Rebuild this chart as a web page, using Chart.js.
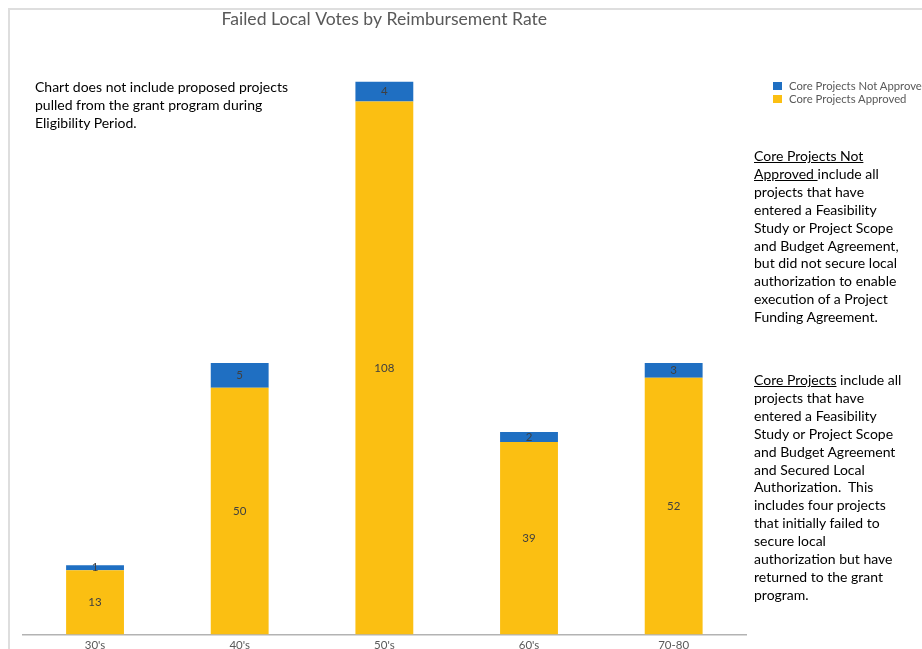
<!DOCTYPE html>
<html>
<head>
<meta charset="utf-8">
<script src="https://cdn.jsdelivr.net/npm/chart.js@4.4.1/dist/chart.umd.min.js"></script>
<style>
  html, body { margin: 0; padding: 0; background: #fff; }
  body { width: 922px; height: 649px; overflow: hidden; position: relative; font-family: Lato, "Open Sans", sans-serif; }
  #frame { position: absolute; left: 8px; top: 8px; right: -4px; bottom: -4px; border-top: 2px solid #dedede; border-left: 2px solid #dedede; pointer-events: none; }
  #wrap { position: absolute; left: 0; top: 0; width: 922px; height: 660px; }
  .note { position: absolute; color: #000; font-size: 14px; line-height: 17.9px; white-space: pre; }
  .u { text-decoration: underline; }
  #legend { position: absolute; left: 773px; top: 79px; font-size: 11.3px; color: #595959; white-space: nowrap; }
  #legend .item { position: relative; height: 13px; line-height: 13px; padding-left: 16px; }
  #legend .sw { position: absolute; left: 0; top: 2.5px; width: 9px; height: 8px; }
</style>
</head>
<body>
<div id="frame"></div>
<div id="wrap"><canvas id="c" width="922" height="660"></canvas></div>
<div class="note" style="left:35px; top:78px;">Chart does not include proposed projects
pulled from the grant program during
Eligibility Period.</div>
<div id="legend"></div>
<div class="note" style="left:754px; top:147px;"><span class="u">Core Projects Not</span>
<span class="u">Approved </span>include all
projects that have
entered a Feasibility
Study or Project Scope
and Budget Agreement,
but did not secure local
authorization to enable
execution of a Project
Funding Agreement.</div>
<div class="note" style="left:754px; top:371px;"><span class="u">Core Projects</span> include all
projects that have
entered a Feasibility
Study or Project Scope
and Budget Agreement
and Secured Local
Authorization.  This
includes four projects
that initially failed to
secure local
authorization but have
returned to the grant
program.</div>
<script>
const categories = ["30's", "40's", "50's", "60's", "70-80"];
const approved = [13, 50, 108, 39, 52];
const notApproved = [1, 5, 4, 2, 3];
const seriesNames = ["Core Projects Approved", "Core Projects Not Approved"];
const seriesColors = ["#fbbf12", "#1f6fc2"];
const titleText = "Failed Local Votes by Reimbursement Rate";

const segLabels = {
  id: 'segLabels',
  afterDatasetsDraw(chart) {
    const ctx = chart.ctx;
    ctx.save();
    ctx.font = '11.5px Lato, "Open Sans", sans-serif';
    ctx.fillStyle = '#404040';
    ctx.textAlign = 'center';
    ctx.textBaseline = 'middle';
    chart.data.datasets.forEach((ds, di) => {
      const meta = chart.getDatasetMeta(di);
      meta.data.forEach((el, i) => {
        const p = el.getProps(['x', 'y', 'base'], true);
        ctx.fillText(String(ds.data[i]), p.x, (p.y + p.base) / 2);
      });
    });
    ctx.restore();
  }
};

const chart = new Chart(document.getElementById('c'), {
  type: 'bar',
  data: {
    labels: categories,
    datasets: [
      { label: seriesNames[0], data: approved, backgroundColor: seriesColors[0], borderWidth: 0 },
      { label: seriesNames[1], data: notApproved, backgroundColor: seriesColors[1], borderWidth: 0 }
    ]
  },
  options: {
    responsive: false,
    devicePixelRatio: 1,
    animation: false,
    layout: { padding: { left: 22.7, right: 176, top: 0, bottom: 3.8 } },
    datasets: { bar: { categoryPercentage: 1, barPercentage: 0.4 } },
    plugins: {
      legend: { display: false },
      tooltip: { enabled: false },
      title: {
        display: true,
        text: titleText,
        fullSize: false,
        color: '#595959',
        font: { family: 'Lato, "Open Sans", sans-serif', size: 17.6, weight: 'normal', lineHeight: 1.2 },
        padding: { top: 8.6, bottom: 12.5 }
      }
    },
    scales: {
      x: {
        stacked: true,
        grid: { display: false, drawTicks: false },
        border: { display: true, color: '#b3b3b3', width: 1.5 },
        ticks: { color: '#595959', font: { family: 'Lato, "Open Sans", sans-serif', size: 11.5 }, padding: 4, maxRotation: 0 }
      },
      y: {
        stacked: true,
        display: false,
        min: 0,
        max: 120
      }
    }
  },
  plugins: [segLabels]
});

const legendEl = document.getElementById('legend');
chart.data.datasets.slice().reverse().forEach(ds => {
  const item = document.createElement('div');
  item.className = 'item';
  const sw = document.createElement('span');
  sw.className = 'sw';
  sw.style.background = ds.backgroundColor;
  item.appendChild(sw);
  item.appendChild(document.createTextNode(ds.label));
  legendEl.appendChild(item);
});
</script>
</body>
</html>
